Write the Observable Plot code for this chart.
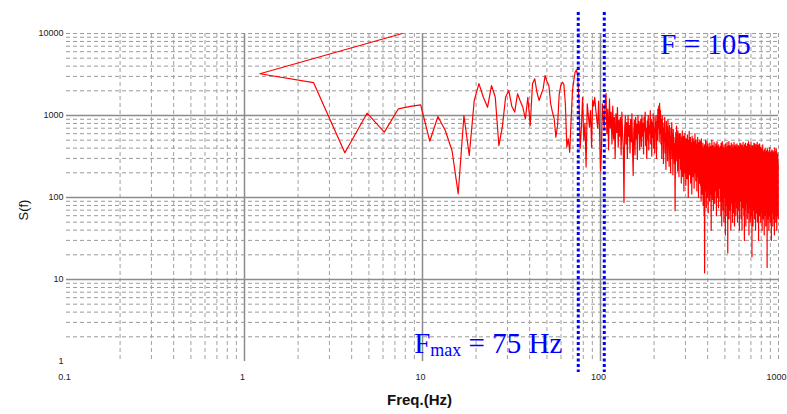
<!DOCTYPE html>
<html>
<head>
<meta charset="utf-8">
<script src="https://cdn.jsdelivr.net/npm/d3@7"></script>
<script src="https://cdn.jsdelivr.net/npm/@observablehq/plot@0.6"></script>
<style>
  html, body { margin: 0; padding: 0; background: #fff; overflow: hidden; }
</style>
</head>
<body>
<div id="chart"></div>
<script>
// ---- data ----
const binHz = 1.2207;          // FFT bin spacing (Hz)
const dcFreq = 7.7;            // odd first sample drawn at the top
const dcValue = 10000;
// S(f) for bins 1..819 (f = bin * binHz)
const spectrumLow = [
  3230, 2520, 351, 1067, 626, 1207, 1290, 1350, 486, 972,
  656, 374, 111, 1000, 325, 1525, 2450, 1670, 1260, 2320,
  1670, 430, 720, 1670, 2020, 1300, 1100, 1840, 1500, 1260,
  910, 1670, 755, 2440, 2800, 1920, 1525, 1800, 2110, 3070,
  2600, 2320, 1390, 1100, 910, 545, 755, 1800, 2320, 2550,
  2400, 1390, 410, 520, 356, 870, 2000, 2670, 3370, 3600,
  3070, 1500, 400, 720, 1670, 500, 800, 235, 1390, 1000,
  720, 1150, 410, 1525, 1300, 1670, 1200, 910, 700, 1500,
  600
];
const spectrumMid = [
  213, 400, 1390, 900, 720, 1500, 1850, 600, 1200, 380, 1600, 700, 1100, 450, 1300, 520, 950, 300, 1050, 620, 1250, 410, 880, 560,
  950, 330, 1100, 600, 400, 87, 700, 980, 450, 820, 300, 1000, 560, 760, 350, 900, 480, 1050, 400, 185, 640, 870, 330, 950, 520, 780, 290, 1000, 600, 840, 380, 720,
  900, 420, 1000, 560, 800, 340, 950, 650, 1100, 430, 700, 300, 860, 520, 1000, 380, 760, 600, 1150, 450, 900, 320, 820, 540, 1050, 400, 700, 350, 980, 620, 840, 300, 1000, 500, 1200, 700, 1300, 480, 1410, 600,
  1150, 450, 900, 300, 1000, 620, 800, 260, 700, 480, 950, 350, 600, 220, 850, 500, 720, 280, 900, 420, 640, 240, 760, 380, 560, 200, 700, 450, 820, 300, 600, 190, 680, 360, 540, 260, 450, 69, 380, 620, 280, 740, 400, 560, 210, 650, 330, 480, 180, 600, 300, 520
];
const spectrumHigh = [
  600, 220, 480, 150, 550, 300, 650, 180, 420, 260, 560, 120, 470, 330, 600, 200, 380, 140, 520, 280, 450, 170, 580, 240, 400, 100, 500, 310, 640, 190, 430, 260, 540, 150, 470, 220, 380, 110, 560, 300, 450, 180, 520, 250, 360, 130, 480, 290, 600, 200, 420, 160, 500, 270, 380, 120, 450, 230, 540, 180, 400, 100, 470, 260, 350, 150, 500, 220,
  480, 140, 380, 90, 520, 200, 420, 110, 350, 230, 460, 80, 400, 170, 300, 60, 440, 12, 260, 380, 120, 500, 210, 340, 75, 420, 160, 480, 100, 300, 220, 450, 65, 360, 190, 410, 130, 280, 90, 460, 240, 350, 110, 420, 180, 40, 320, 140, 500, 230, 380, 95, 430, 200, 290, 70, 400, 150, 470, 260, 340, 85, 410, 190, 300, 120, 450, 220, 360, 60, 390, 170, 480, 250, 320, 100, 420, 140, 280, 75, 440, 210, 360, 130, 400, 180, 300, 90,
  420, 110, 350, 60, 460, 200, 300, 45, 380, 150, 480, 90, 260, 330, 70, 410, 170, 290, 50, 440, 230, 360, 100, 390, 130, 270, 35, 450, 190, 340, 80, 400, 150, 300, 60, 470, 210, 380, 120, 21, 260, 420, 90, 340, 160, 480, 55, 370, 200, 300, 110, 430, 70, 350, 180, 410, 40, 290, 140, 460, 220, 330, 85, 390, 120, 280, 50, 440, 170, 360, 100, 400, 65, 310, 230, 470, 130, 350, 45, 420, 190, 300, 90, 380, 150, 440, 60, 320, 210, 400, 110, 270, 75, 450, 160, 340, 50, 390, 200, 300, 95, 430, 140, 360, 70, 410, 180, 280, 40, 370, 120, 460, 230, 330,
  380, 90, 310, 160, 450, 55, 340, 210, 400, 120, 270, 40, 430, 180, 350, 75, 300, 140, 470, 95, 360, 230, 410, 60, 290, 150, 380, 30, 440, 200, 320, 100, 390, 70, 460, 170, 280, 45, 350, 130, 420, 250, 310, 85, 400, 160, 370, 55, 450, 110, 300, 190, 420, 65, 340, 140, 480, 90, 260, 35, 390, 210, 330, 120, 440, 75, 360, 180, 300, 50, 410, 150, 380, 95, 470, 230, 320, 60, 400, 130, 290, 19, 350, 200, 430, 80, 370, 160, 310, 45, 420, 110, 390, 240, 280, 70, 460, 140, 340, 100, 400, 55, 330, 190, 450, 85, 300, 130, 410, 40, 370, 220, 290, 95, 440, 150, 350, 65, 390, 120, 320, 180, 470, 50, 360, 100, 300, 210, 420, 75, 380, 140, 330, 30, 440, 170, 290, 90, 400, 125, 360, 60, 450, 200, 310, 110,
  380, 80, 300, 170, 260, 50, 410, 130, 240, 210, 340, 65, 290, 140, 390, 95, 220, 40, 330, 190, 270, 110, 440, 70, 300, 160, 250, 55, 360, 200, 260, 90, 330, 120, 210, 35, 380, 180, 280, 75, 320, 140, 240, 100, 400, 60, 290, 180, 230, 45, 350, 150, 310, 85, 260, 120, 370, 65, 220, 170, 330, 14, 270, 110, 390, 90, 250, 200, 320, 55, 290, 140, 350, 75, 230, 190, 310, 40, 370, 100, 260, 160, 340, 60, 210, 130, 410, 85, 280, 200, 250, 50, 340, 120, 300, 70, 240, 180, 360, 95, 270, 30, 330, 150, 220, 110, 380, 65, 290, 190, 260, 80, 350, 140, 230, 45, 310, 170, 370, 90, 250, 120, 320, 55, 270, 210, 350, 75, 220, 150, 340, 35, 290, 110, 400, 180, 240, 60, 310, 130, 260, 90, 360, 200, 230, 50, 340, 160, 280, 100, 390, 70, 250, 140, 320, 40, 270, 190, 220, 85, 350, 120, 290, 60, 240, 150, 330, 95, 210, 180, 260, 55
];
const xTicks = [0.1, 1, 10, 100, 1000];
const xTickLabels = ["0.1", "1", "10", "100", "1000"];
const yTicks = [1, 10, 100, 1000, 10000];
const yTickLabels = ["1", "10", "100", "1000", "10000"];
const fmax = 75, fCut = 105;
const fmaxLabel = "Fmax = 75 Hz";
const fCutLabel = "F = 105";
const xLabel = "Freq.(Hz)";
const yLabel = "S(f)";

// ---- build ----
const spectrum = [...spectrumLow, ...spectrumMid, ...spectrumHigh];
const data = [{f: dcFreq, s: dcValue}, ...spectrum.map((s, i) => ({f: (i + 1) * binHz, s}))];

const mult = [2, 3, 4, 5, 6, 7, 8, 9];
const minorX = [0.1, 1, 10, 100].flatMap(d => mult.map(m => d * m)).concat([1000]);
const majorX = [1, 10, 100];
const minorY = [1, 10, 100, 1000].flatMap(d => mult.map(m => d * m)).concat([10000]);
const majorY = [10, 100, 1000];
const xLab = new Map(xTicks.map((t, i) => [t, xTickLabels[i]]));
const yLab = new Map(yTicks.map((t, i) => [t, yTickLabels[i]]));

const chart = Plot.plot({
  width: 787, height: 414,
  marginLeft: 66, marginRight: 9, marginTop: 33, marginBottom: 53,
  style: {fontFamily: "'Liberation Sans', Arial, sans-serif", fontSize: "9px", background: "#fff", color: "#222"},
  x: {type: "log", domain: [0.1, 1000]},
  y: {type: "log", domain: [1, 10000]},
  marks: [
    Plot.ruleY(minorY, {stroke: "#9a9a9a", strokeWidth: 1, strokeDasharray: "4,3"}),
    Plot.ruleX(minorX, {stroke: "#a0a0a0", strokeWidth: 1, strokeDasharray: "4,3"}),
    Plot.ruleY(majorY, {stroke: "#8c8c8c", strokeWidth: 1.5}),
    Plot.ruleX(majorX, {stroke: "#8c8c8c", strokeWidth: 1.5}),
    Plot.line(data, {x: "f", y: "s", stroke: "#ff0000", strokeWidth: 1.2}),
    Plot.ruleX([fmax, fCut], {stroke: "#0000ff", strokeWidth: 3, strokeDasharray: "3,2.5", insetTop: -21, insetBottom: -11}),
    Plot.axisX({ticks: xTicks, tickFormat: d => xLab.get(d), tickSize: 0, tickPadding: 12, dx: -2, label: null}),
    Plot.axisY({ticks: yTicks, tickFormat: d => yLab.get(d), tickSize: 0, tickPadding: 3, label: null}),
    Plot.text([{x: fCut, t: fCutLabel}], {x: "x", text: "t", frameAnchor: "top", lineAnchor: "top", textAnchor: "start", dx: 56, fontSize: 29, fontFamily: "'Liberation Serif', 'Times New Roman', serif", fill: "#0000ff"}),
    Plot.text([{x: fmax, t: fmaxLabel}], {x: "x", text: "t", frameAnchor: "bottom", lineAnchor: "bottom", textAnchor: "end", dx: -16, dy: -9, fontSize: 29, fontFamily: "'Liberation Serif', 'Times New Roman', serif", fill: "#0000ff", className: "fmax"}),
    Plot.text([xLabel], {text: d => d, frameAnchor: "bottom", dy: 43, dx: -3, fontSize: 15, fontWeight: "bold", fill: "#111"}),
    Plot.text([yLabel], {text: d => d, frameAnchor: "left", rotate: -90, dx: -43, dy: 23, fontSize: 13, fill: "#111"})
  ]
});

const t = chart.querySelector("g.fmax text");
if (t) {
  t.textContent = "";
  const ns = "http://www.w3.org/2000/svg";
  t.appendChild(document.createTextNode("F"));
  const sub = document.createElementNS(ns, "tspan");
  sub.setAttribute("font-size", "18");
  sub.setAttribute("dy", "3");
  sub.textContent = "max";
  t.appendChild(sub);
  const rest = document.createElementNS(ns, "tspan");
  rest.setAttribute("dy", "-3");
  rest.textContent = " = 75 Hz";
  t.appendChild(rest);
}
document.getElementById("chart").appendChild(chart);
</script>
</body>
</html>
